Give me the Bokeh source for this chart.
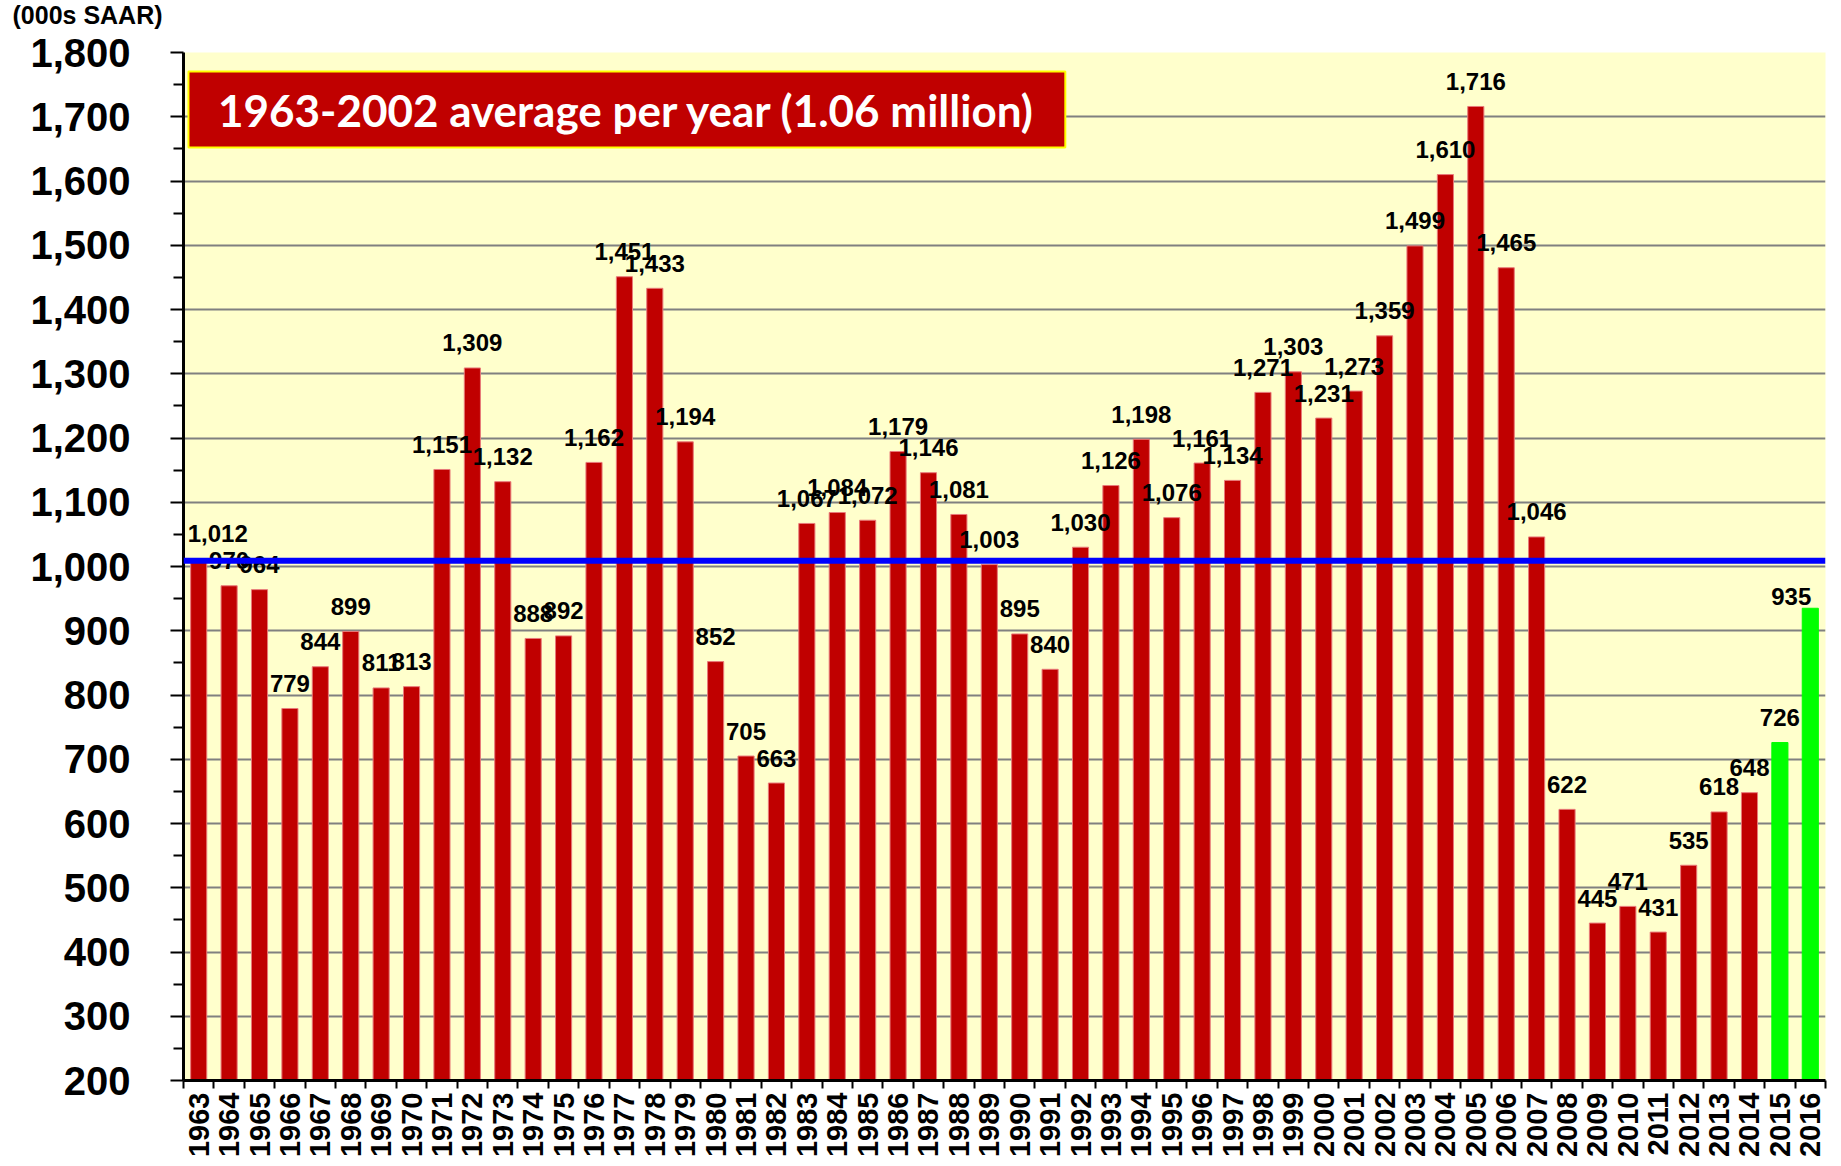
import numpy as np
from bokeh.plotting import figure
from bokeh.models import (Range1d, FixedTicker, Span, BoxAnnotation, Label,
                          ColumnDataSource, Title)
from bokeh.core.properties import value
from bokeh.embed import file_html
from bokeh.resources import INLINE

years = list(range(1963, 2017))
starts = [1012, 970, 964, 779, 844, 899, 811, 813, 1151, 1309,
          1132, 888, 892, 1162, 1451, 1433, 1194, 852, 705, 663,
          1067, 1084, 1072, 1179, 1146, 1081, 1003, 895, 840, 1030,
          1126, 1198, 1076, 1161, 1134, 1271, 1303, 1231, 1273, 1359,
          1499, 1610, 1716, 1465, 1046, 622, 445, 471, 431, 535,
          618, 648, 726, 935]
highlight_years = [2015, 2016]
average_line = 1009
y_ticks = list(range(200, 1801, 100))
y_minor = list(range(250, 1800, 100))
box_text = "1963-2002 average per year (1.06 million)"
unit_text = "(000s SAAR)"

RED = "#C00000"
GREEN = "#00FF00"

n = len(years)
idx = list(range(n))
colors = [GREEN if y in highlight_years else RED for y in years]
lines = [GREEN if y in highlight_years else "#E87A7A" for y in years]
labels = [f"{v:,}" for v in starts]
# first/last labels are pulled inside the plot edges
aligns = ["left"] + ["center"] * (n - 2) + ["right"]
yoffs = [-25] * (n - 1) + [-12]
xoffs = [-11] + [0] * (n - 2) + [1]

src = ColumnDataSource(dict(x=idx, top=starts, color=colors, lc=lines, lab=labels,
                            al=aligns, yo=yoffs, xo=xoffs))

p = figure(width=1833, height=1160, output_backend="svg", toolbar_location=None,
           x_range=Range1d(-0.5, n - 0.5), y_range=Range1d(200, 1800),
           min_border_left=183, min_border_right=8, min_border_top=52, min_border_bottom=80)

p.background_fill_color = "#FFFFCC"
p.border_fill_color = "white"
p.outline_line_color = None

p.vbar(x="x", top="top", bottom=200, width=0.53, fill_color="color",
       line_color="lc", line_width=1, source=src)

p.text(x="x", y="top", text="lab", source=src, text_align="al",
       text_baseline="alphabetic", y_offset="yo", x_offset="xo",
       text_font=value("Liberation Sans"), text_font_style="bold",
       text_font_size="24px", text_color="black")

p.add_layout(Span(location=average_line, dimension="width", line_color="#0000FF",
                  line_width=6))

p.add_layout(BoxAnnotation(left=-0.336, right=28.5, top=1770.4, bottom=1652.1,
                           fill_color=RED, fill_alpha=1.0, line_color="#FFFF00",
                           line_width=2, line_alpha=1.0))
p.add_layout(Label(x=14.08, y=1711.2, text=box_text, text_align="center",
                   text_baseline="middle", text_color="white",
                   text_font="Lato", text_font_style="bold",
                   text_font_size="44px"))

# unit caption at the very top-left, with an empty spacer panel below it
p.title = Title(text=unit_text, align="left", vertical_align="top", offset=-171,
                standoff=0, text_font="Liberation Sans", text_font_style="bold",
                text_font_size="25px", text_color="black")
p.add_layout(Title(text=" ", text_font_size="1px", standoff=19), "above")

# grid
p.xgrid.visible = False
p.ygrid.ticker = FixedTicker(ticks=y_ticks)
p.ygrid.grid_line_color = "#808080"
p.ygrid.grid_line_width = 2

# y axis
ya = p.yaxis[0]
ya.ticker = FixedTicker(ticks=y_ticks, minor_ticks=y_minor)
ya.major_label_overrides = {t: f"{t:,}" for t in y_ticks}
ya.major_label_text_font = "Liberation Sans"
ya.major_label_text_font_style = "bold"
ya.major_label_text_font_size = "40px"
ya.major_label_text_color = "black"
ya.major_label_standoff = 40
ya.axis_line_color = "black"
ya.axis_line_width = 3
ya.major_tick_out = 13
ya.major_tick_in = 0
ya.minor_tick_out = 10
ya.minor_tick_in = 0
ya.major_tick_line_color = "black"
ya.minor_tick_line_color = "black"
ya.major_tick_line_width = 2
ya.minor_tick_line_width = 2

# x axis
xa = p.xaxis[0]
xa.ticker = FixedTicker(ticks=idx, minor_ticks=[i - 0.5 for i in range(n + 1)])
xa.major_label_overrides = {i: str(y) for i, y in zip(idx, years)}
xa.major_label_orientation = np.pi / 2
xa.major_label_text_font = "Liberation Sans"
xa.major_label_text_font_style = "bold"
xa.major_label_text_font_size = "29px"
xa.major_label_text_color = "black"
xa.major_label_standoff = 4
xa.axis_line_color = "black"
xa.axis_line_width = 3
xa.major_tick_out = 0
xa.major_tick_in = 0
xa.major_tick_line_color = None
xa.minor_tick_out = 8
xa.minor_tick_in = 0
xa.minor_tick_line_color = "black"
xa.minor_tick_line_width = 2

open("out.html", "w").write(file_html(p, INLINE))
